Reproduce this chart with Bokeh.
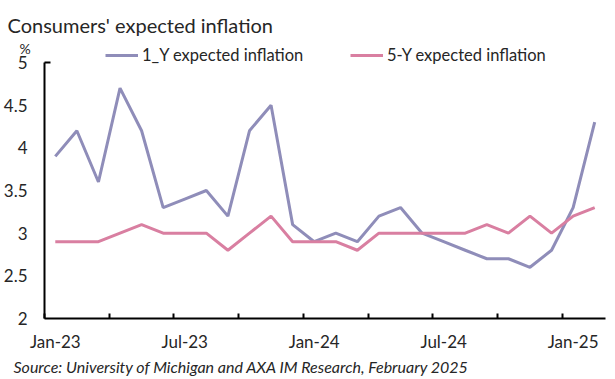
from bokeh.plotting import figure
from bokeh.models import Legend, LegendItem, FixedTicker, NumeralTickFormatter, Range1d, Label
from bokeh.embed import file_html
from bokeh.resources import INLINE

months = ["Jan-23", "Feb-23", "Mar-23", "Apr-23", "May-23", "Jun-23", "Jul-23", "Aug-23",
          "Sep-23", "Oct-23", "Nov-23", "Dec-23", "Jan-24", "Feb-24", "Mar-24", "Apr-24",
          "May-24", "Jun-24", "Jul-24", "Aug-24", "Sep-24", "Oct-24", "Nov-24", "Dec-24",
          "Jan-25", "Feb-25"]
one_y = [3.9, 4.2, 3.6, 4.7, 4.2, 3.3, 3.4, 3.5, 3.2, 4.2, 4.5, 3.1, 2.9, 3.0, 2.9, 3.2,
         3.3, 3.0, 2.9, 2.8, 2.7, 2.7, 2.6, 2.8, 3.3, 4.3]
five_y = [2.9, 2.9, 2.9, 3.0, 3.1, 3.0, 3.0, 3.0, 2.8, 3.0, 3.2, 2.9, 2.9, 2.9, 2.8, 3.0,
          3.0, 3.0, 3.0, 3.0, 3.1, 3.0, 3.2, 3.0, 3.2, 3.3]
y_ticks = [2, 2.5, 3, 3.5, 4, 4.5, 5]
label_idx = [0, 6, 12, 18, 24]
series_names = ["1_Y expected inflation", "5-Y expected inflation"]
title_text = "Consumers' expected inflation"
unit_text = "%"
source_text = "Source: University of Michigan and AXA IM Research, February 2025"

FONT = "Lato"
TXT = "#262626"
PURPLE = "#8F8DB9"
PINK = "#D97FA1"

# layout (figure pixels): plot area box inside a full-size frame
W, H = 615, 379
AX_L, AX_R, AX_T, AX_B = 44, 605, 62, 318   # axis box edges in figure pixels

n = len(months)
x0, x1 = -0.5, n - 0.5
y0, y1 = y_ticks[0], y_ticks[-1]
sx = (AX_R - AX_L) / (x1 - x0)
sy = (AX_B - AX_T) / (y1 - y0)
xr = Range1d(x0 - AX_L / sx, x1 + (W - AX_R) / sx)
yr = Range1d(y0 - (H - AX_B) / sy, y1 + AX_T / sy)

p = figure(width=W, height=H, output_backend="svg", toolbar_location=None,
           min_border_left=0, min_border_right=0, min_border_top=0, min_border_bottom=0,
           x_range=xr, y_range=yr)
p.outline_line_color = None
p.xgrid.grid_line_color = None
p.ygrid.grid_line_color = None

x = list(range(n))
r1 = p.line(x, one_y, line_color=PURPLE, line_width=3)
r2 = p.line(x, five_y, line_color=PINK, line_width=3)

# x axis
xa = p.xaxis[0]
xa.fixed_location = y0
xa.bounds = (x0, x1)
xa.ticker = FixedTicker(ticks=label_idx, minor_ticks=[i - 0.5 for i in range(0, n, 3)])
xa.major_label_overrides = {i: months[i] for i in label_idx}
xa.major_tick_line_color = None
xa.major_tick_out = 0
xa.major_tick_in = 0
xa.minor_tick_in = 5
xa.minor_tick_out = 0
xa.minor_tick_line_color = "black"
xa.minor_tick_line_width = 2
xa.axis_line_color = "black"
xa.axis_line_width = 2
xa.major_label_text_font = FONT
xa.major_label_text_font_size = "17px"
xa.major_label_text_color = TXT
xa.major_label_standoff = 12

# y axis
ya = p.yaxis[0]
ya.fixed_location = x0
ya.bounds = (y0, y1)
ya.ticker = FixedTicker(ticks=y_ticks, minor_ticks=[y1])
ya.formatter = NumeralTickFormatter(format="0.[0]")
ya.major_tick_line_color = None
ya.major_tick_out = 0
ya.major_tick_in = 0
ya.minor_tick_in = 6
ya.minor_tick_out = 0
ya.minor_tick_line_color = "black"
ya.minor_tick_line_width = 2
ya.axis_line_color = "black"
ya.axis_line_width = 2
ya.major_label_text_font = FONT
ya.major_label_text_font_size = "17px"
ya.major_label_text_color = TXT
ya.major_label_standoff = 17

legend = Legend(items=[LegendItem(label=series_names[0], renderers=[r1]),
                       LegendItem(label=series_names[1], renderers=[r2])],
                location=(105, H - 65), orientation="horizontal", padding=0, margin=0, spacing=0,
                glyph_width=33, glyph_height=18, label_height=18, label_width=208,
                label_standoff=4, label_text_font=FONT, label_text_font_size="16.5px",
                label_text_color=TXT, border_line_color=None, background_fill_alpha=0)
p.add_layout(legend, "center")

p.add_layout(Label(x=7, y=H - 24, x_units="screen", y_units="screen",
                   text=title_text, text_font=FONT, text_font_size="20px",
                   text_color=TXT, text_baseline="alphabetic"))
p.add_layout(Label(x=19, y=H - 48, x_units="screen", y_units="screen",
                   text=unit_text, text_font=FONT, text_font_size="14px",
                   text_color=TXT, text_baseline="alphabetic"))
p.add_layout(Label(x=13, y=H - 366, x_units="screen", y_units="screen",
                   text=source_text, text_font=FONT, text_font_size="16px",
                   text_font_style="italic", text_color=TXT, text_baseline="alphabetic"))

open("out.html", "w").write(file_html(p, INLINE))
